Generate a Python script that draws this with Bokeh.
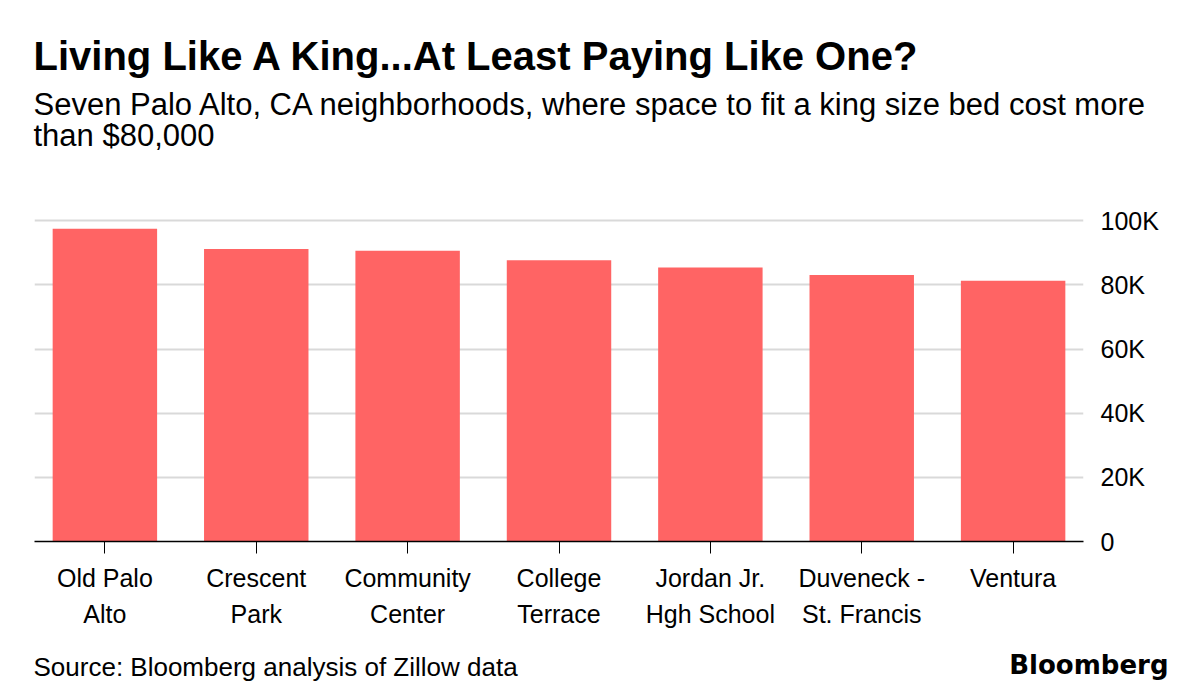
from bokeh.plotting import figure
from bokeh.models import FactorRange, Range1d, FixedTicker
from bokeh.layouts import column
from bokeh.core.properties import value
from bokeh.embed import file_html
from bokeh.resources import INLINE

categories = ["Old Palo\nAlto", "Crescent\nPark", "Community\nCenter", "College\nTerrace",
              "Jordan Jr.\nHgh School", "Duveneck -\nSt. Francis", "Ventura"]
values = [97500, 91200, 90600, 87700, 85400, 83100, 81300]
y_ticks = [0, 20000, 40000, 60000, 80000, 100000]
y_tick_labels = ["0", "20K", "40K", "60K", "80K", "100K"]

title = "Living Like A King...At Least Paying Like One?"
subtitle1 = "Seven Palo Alto, CA neighborhoods, where space to fit a king size bed cost more"
subtitle2 = "than $80,000"
source = "Source: Bloomberg analysis of Zillow data"
logo = "Bloomberg"

W = 1184
FONT = "Liberation Sans"


def text_panel(height):
    f = figure(width=W, height=height, output_backend="svg", toolbar_location=None,
               x_range=Range1d(0, W), y_range=Range1d(height, 0),
               x_axis_type=None, y_axis_type=None, frame_align=False,
               min_border=0, min_border_left=0, min_border_right=0,
               min_border_top=0, min_border_bottom=0)
    f.grid.visible = False
    f.outline_line_color = None
    f.background_fill_color = "white"
    f.border_fill_color = "white"
    return f


def put(f, x, y, text, size, bold=False, align="left", font=FONT):
    f.text(x=[x], y=[y], text=[text], text_font=value(font), text_font_size=size,
           text_font_style="bold" if bold else "normal", text_color="black",
           text_align=align, text_baseline="middle")


# header
head = text_panel(200)
put(head, 33, 55, title, "40px", bold=True)
put(head, 33, 104, subtitle1, "31px")
put(head, 33, 135, subtitle2, "31px")

# main chart
MH = 440
p = figure(width=W, height=MH, output_backend="svg", toolbar_location=None,
           x_range=FactorRange(*categories, range_padding=-0.035, range_padding_units="absolute"),
           y_range=Range1d(0, 101000), y_axis_location="right", frame_align=False,
           min_border_left=34, min_border_right=101, min_border_top=17, min_border_bottom=99)
p.outline_line_color = None
p.background_fill_color = "white"
p.border_fill_color = "white"

p.vbar(x=categories, top=values, width=0.69, color="#ff6464", line_color=None)

p.xgrid.grid_line_color = None
p.ygrid.grid_line_color = "#d9d9d9"
p.ygrid.grid_line_width = 2
p.ygrid.ticker = FixedTicker(ticks=y_ticks)

ya = p.yaxis[0]
ya.ticker = FixedTicker(ticks=y_ticks)
ya.major_label_overrides = {t: l for t, l in zip(y_ticks, y_tick_labels)}
ya.axis_line_color = None
ya.major_tick_line_color = None
ya.minor_tick_line_color = None
ya.major_label_standoff = 11
ya.major_label_text_font = FONT
ya.major_label_text_font_size = "25px"
ya.major_label_text_color = "black"

xa = p.xaxis[0]
xa.axis_line_color = "black"
xa.axis_line_width = 1.5
xa.major_tick_line_color = "black"
xa.major_tick_line_width = 1
xa.major_tick_out = 12
xa.major_tick_in = 0
xa.major_label_standoff = 10
xa.major_label_text_font = FONT
xa.major_label_text_font_size = "25px"
xa.major_label_text_color = "black"
xa.major_label_text_line_height = 1.3

# footer
foot = text_panel(42)
put(foot, 33, 26, source, "26px")
put(foot, 1168, 24, logo, "26px", bold=True, align="right", font="DejaVu Sans")

layout = column(head, p, foot, spacing=0)
open("out.html", "w").write(file_html(layout, INLINE))
